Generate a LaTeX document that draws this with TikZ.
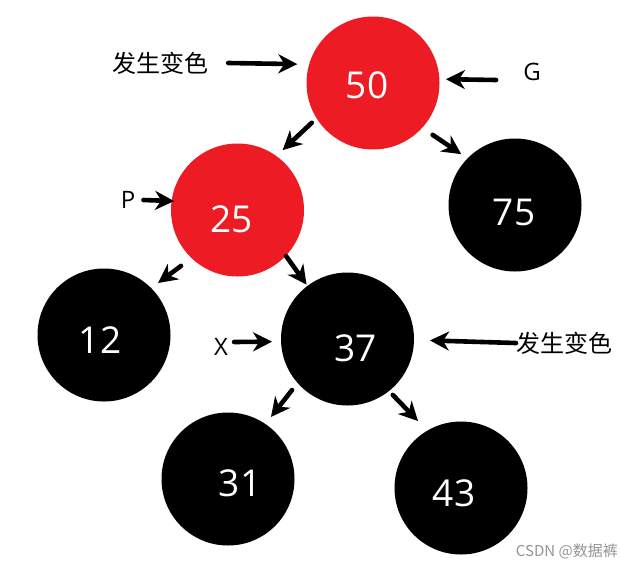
\documentclass[tikz,border=0pt]{standalone}
\usepackage{fontspec}
\setmainfont{Open Sans}
\newfontfamily\cjk{Noto Sans CJK SC}
\usetikzlibrary{arrows.meta,calc}
\definecolor{paintred}{HTML}{ED1C24}
\tikzset{
  tnode/.style={circle, minimum size=133pt, inner sep=0pt, outer sep=0pt},
  rednode/.style={tnode, fill=paintred},
  blacknode/.style={tnode, fill=black},
  num/.style={text=white, font=\fontsize{37}{40}\selectfont},
  arr/.style={line width=4.6pt, line cap=round, -{Stealth[length=19pt,width=19pt,inset=6pt]}},
  cjklbl/.style={font=\cjk\fontsize{24}{26}\selectfont, inner sep=0pt},
  latlbl/.style={font=\fontsize{24}{26}\selectfont, inner sep=0pt},
}
\begin{document}
\begin{tikzpicture}[x=1pt,y=-1pt]
\useasboundingbox[fill=white] (0,0) rectangle (620,568);
% tree nodes
\node[rednode, label={[num, xshift=-6pt, yshift=-2pt]center:50}] (n50) at (373,83) {};
\node[rednode, label={[num, xshift=-6pt, yshift=-9pt]center:25}] (n25) at (237.5,210) {};
\node[blacknode, label={[num, xshift=-1pt, yshift=-7pt]center:75}] (n75) at (515,205) {};
\node[blacknode, label={[num, xshift=-4pt, yshift=-5pt]center:12}] (n12) at (104,335) {};
\node[blacknode, label={[num, xshift=8pt, yshift=-9pt]center:37}] (n37) at (347.5,339) {};
\node[blacknode, label={[num, xshift=12pt, yshift=-4pt]center:31}] (n31) at (228,479) {};
\node[blacknode, label={[num, xshift=-7pt, yshift=-5pt]center:43}] (n43) at (461,488) {};
% labels
\node[cjklbl] (t1) at (160,63) {发生变色};
\node[latlbl] (g) at (532,72) {G};
\node[latlbl] (p) at (128,200) {P};
\node[latlbl] (x) at (221,347) {X};
\node[cjklbl, anchor=west] (t2) at (516,343) {发生变色};
\node[font=\cjk\fontsize{15}{17}\selectfont, text=black!42, anchor=east, inner sep=0pt] (wm) at (618,551) {CSDN @数据裤};
% tree arrows
\draw[arr] ($(n50)+(213:73pt)$) -- ($(n25)+(53:75pt)$);
\draw[arr] ($(n50)+(319:79pt)$) -- ($(n75)+(136.6:74pt)$);
\draw[arr] ($(n25)+(224.7:79.5pt)$) -- ($(n12)+(43.9:75pt)$);
\draw[arr] ($(n25)+(316.5:67pt)$) -- ($(n37)+(127:68pt)$);
\draw[arr] ($(n37)+(222.6:75.4pt)$) -- ($(n31)+(55.3:75.5pt)$);
\draw[arr] ($(n37)+(309:72pt)$) -- ($(n43)+(122.7:79.6pt)$);
% label arrows
\draw[arr] ($(t1.east)+(20pt,0pt)$) -- ($(n50)+(166:78pt)$);
\draw[arr] ($(g.west)+(-27pt,-8pt)$) -- ($(n50)+(3:73pt)$);
\draw[arr] ($(p.east)+(8pt,0pt)$) -- ($(n25)+(172:64pt)$);
\draw[arr] ($(x.east)+(6pt,5pt)$) -- ($(n37)+(182:75.5pt)$);
\draw[arr] (t2.west) -- ($(n37)+(359:82.5pt)$);
\end{tikzpicture}
\end{document}
